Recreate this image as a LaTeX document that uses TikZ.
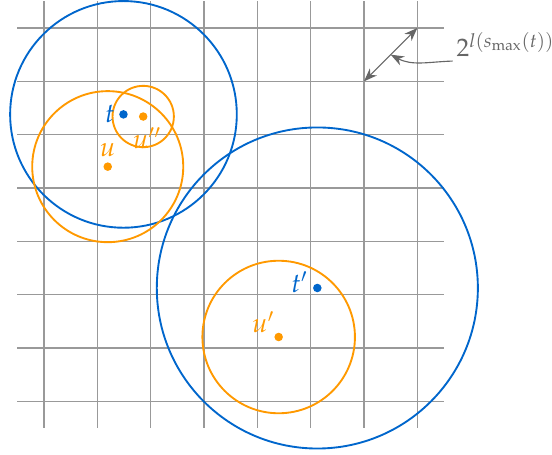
\documentclass[tikz,border=0pt]{standalone}
\usepackage{mathpazo}
\usetikzlibrary{arrows.meta,positioning}
\definecolor{ptblue}{HTML}{0066CC}
\definecolor{ptorange}{HTML}{FF9900}
\definecolor{notegray}{HTML}{666666}
\tikzset{
gridline/.style={draw=black!40,line width=.7pt},
bigball/.style={draw=ptblue,line width=1pt},
smallball/.style={draw=ptorange,line width=1pt},
dot/.style={circle,inner sep=0pt,minimum size=1.6mm},
tdot/.style={dot,fill=ptblue},
udot/.style={dot,fill=ptorange},
tlabel/.style={text=ptblue,inner sep=1pt,font=\Large},
ulabel/.style={text=ptorange,inner sep=1pt,font=\Large},
measure/.style={{Stealth[length=2.5mm]}-{Stealth[length=2.5mm]},draw=notegray,line width=.6pt},
pointer/.style={-{Stealth[length=2.5mm]},draw=notegray,line width=.6pt}
}

\begin{document}
\begin{tikzpicture}
\useasboundingbox (-0.825,-0.988) rectangle (9.525,7.525);
\draw[gridline] (-0.5,-0.5) grid (7.5,7.5);

\node[tdot] (t) at (1.49,5.38) {};
\node[udot] (upp) at (1.86,5.34) {};
\node[udot] (u) at (1.195,4.40) {};
\node[tdot] (tp) at (5.125,2.125) {};
\node[udot] (up) at (4.40,1.206) {};

\draw[bigball] (t) circle (2.125);
\draw[smallball] (upp) circle (0.575);
\draw[smallball] (u) circle (1.416);
\draw[bigball] (tp) circle (3.01);
\draw[smallball] (up) circle (1.43);

\node[tlabel,left=1pt of t] {$t$};
\node[ulabel,above=1.5pt of u] {$u$};
\node[ulabel,below=2.5pt of upp,xshift=2pt] {$u''$};
\node[tlabel,left=1.5pt of tp,yshift=3pt] {$t'$};
\node[ulabel,above left=-1pt of up] {$u'$};

\coordinate (m0) at (6,6);
\coordinate (m1) at (7,7);
\coordinate (mid) at (6.5,6.5);
\draw[measure] (m0) -- (m1);
\node[text=notegray,font=\fontsize{13.5}{16}\selectfont,inner sep=2pt,anchor=south west] (lvl) at (7.66,6.38) {$2^{l(s_{\max}(t))}$};
\draw[pointer] (lvl.south west) to[out=182,in=-28] (mid);
\end{tikzpicture}
\end{document}
